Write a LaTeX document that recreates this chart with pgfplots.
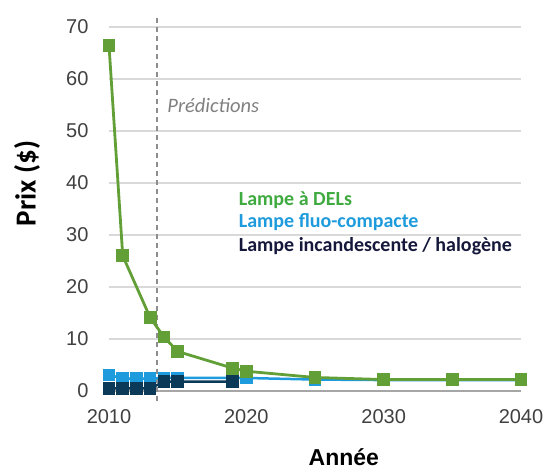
\documentclass[border=0pt]{standalone}
\usepackage{pgfplots}
\pgfplotsset{compat=1.18}
\usepackage{fontspec}
\setmainfont{Liberation Sans}
\newfontfamily\calibri{Carlito}

\definecolor{ledgreen}{HTML}{62A037}
\definecolor{ledtext}{HTML}{3FAA3F}
\definecolor{cflblue}{HTML}{1E9BDC}
\definecolor{incdark}{HTML}{0B3A58}
\definecolor{inctext}{HTML}{15183A}
\definecolor{gridgray}{HTML}{D9D9D9}
\definecolor{axisgray}{HTML}{A6A6A6}
\definecolor{tickgray}{HTML}{404040}

\begin{document}
\begin{tikzpicture}
\begin{axis}[
  scale only axis, width=412pt, height=364pt,
  xmin=2010, xmax=2040, ymin=0, ymax=70,
  xtick={2010,2020,2030,2040}, ytick={0,10,...,70},
  axis lines=left,
  y axis line style={draw=none},
  x axis line style={draw=axisgray, line width=2pt, -},
  major tick length=0pt,
  ymajorgrids, grid style={draw=gridgray, line width=1.3pt},
  tick label style={font=\fontsize{20}{20}\selectfont, text=tickgray},
  xticklabel style={yshift=-15pt},
  yticklabel style={xshift=-17pt},
  /pgf/number format/assume math mode=true,
  /pgf/number format/1000 sep={},
  xlabel={Année},
  xlabel style={at={(rel axis cs:0.57,0)}, anchor=center, yshift=-66pt,
    font=\fontsize{23}{23}\selectfont\bfseries, text=black},
  ylabel={Prix (\$)},
  ylabel style={at={(rel axis cs:0,0.57)}, anchor=center, yshift=82pt,
    font=\calibri\fontsize{29}{29}\selectfont\bfseries, text=black},
  clip=false,
]
% vertical separator between history and predictions
\draw[axisgray!85!black, line width=1.2pt, dash pattern=on 5pt off 4pt]
  (axis cs:2013.5,-2) -- (axis cs:2013.5,72);
\node[anchor=west, text=gray, font=\calibri\itshape\fontsize{20.5}{20.5}\selectfont]
  at (axis cs:2014.0,55) {Prédictions};

% fluo-compacte
\addplot[cflblue, line width=2.5pt, mark=square*, mark size=5pt,
  mark options={solid, fill=cflblue, draw=cflblue}]
  coordinates {(2010,3.1) (2011,2.4) (2012,2.4) (2013,2.4) (2014,2.5) (2015,2.5)
    (2019,2.5) (2020,2.5) (2025,2.2) (2030,2.1) (2035,2.1) (2040,2.1)};
% incandescente / halogene
\addplot[incdark, line width=2.5pt, mark=square*, mark size=5pt,
  mark options={solid, fill=incdark, draw=incdark}]
  coordinates {(2010,0.5) (2011,0.5) (2012,0.5) (2013,0.5) (2014,1.8) (2015,1.8)
    (2019,1.8)};
% DELs
\addplot[ledgreen, line width=2.8pt, mark=square*, mark size=5pt,
  mark options={solid, fill=ledgreen, draw=ledgreen}]
  coordinates {(2010,66.5) (2011,26) (2013,14.1) (2014,10.4) (2015,7.6)
    (2019,4.4) (2020,3.8) (2025,2.6) (2030,2.2) (2035,2.2) (2040,2.2)};

\node[anchor=west, text=ledtext, font=\calibri\bfseries\fontsize{20}{20}\selectfont]
  at (axis cs:2019.2,36.7) {Lampe à DELs};
\node[anchor=west, text=cflblue, font=\calibri\bfseries\fontsize{20}{20}\selectfont]
  at (axis cs:2019.2,32.4) {Lampe fluo-compacte};
\node[anchor=west, text=inctext, font=\calibri\bfseries\fontsize{20}{20}\selectfont]
  at (axis cs:2019.2,27.9) {Lampe incandescente / halogène};
\end{axis}
\pgfresetboundingbox
\path ([shift={(-109pt,-79pt)}]current axis.south west)
  rectangle ([shift={(438pt,391pt)}]current axis.south west);
\end{tikzpicture}
\end{document}
